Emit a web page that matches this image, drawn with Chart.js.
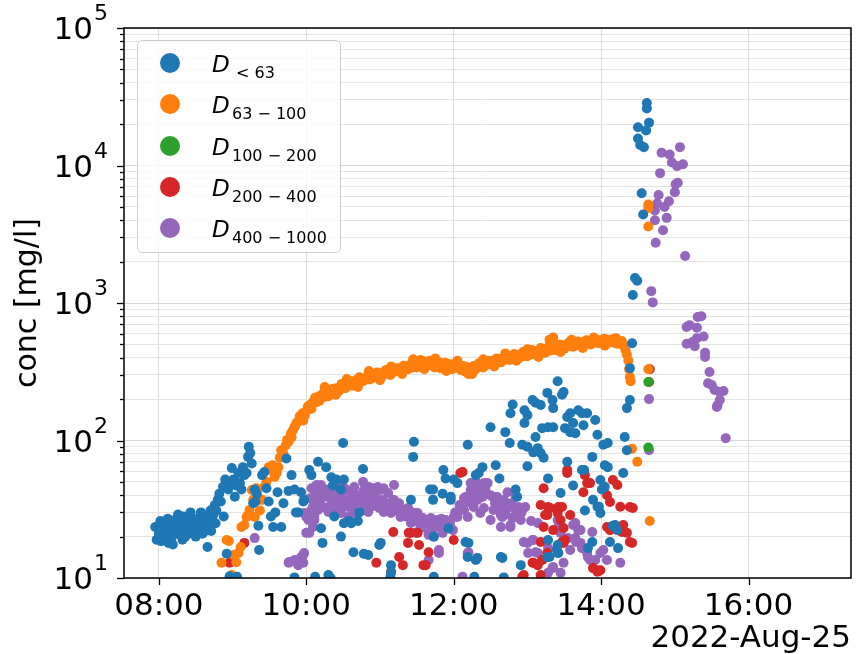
<!DOCTYPE html>
<html>
<head>
<meta charset="utf-8">
<script src="https://cdn.jsdelivr.net/npm/chart.js@4.4.0/dist/chart.umd.min.js"></script>
<style>
  html, body { margin: 0; padding: 0; background: #fff; }
  #wrap { width: 856px; height: 654px; }
</style>
</head>
<body>
<div id="wrap"><canvas id="concChart" width="856" height="654"></canvas></div>
<script>
// [time of day in hours, concentration in mg/l]
const dUnder63 = [
  [7.95,23.5],[7.97,19],[8.00,21],[8.00,24],[8.02,26],[8.03,18.5],[8.04,19],[8.05,23],[8.06,20],[8.07,21],[8.09,25],[8.10,19.5],
  [8.11,22],[8.12,27],[8.13,18],[8.14,24],[8.16,21],[8.17,26],[8.18,20],[8.19,17.5],[8.20,23],[8.21,25],[8.22,22],[8.24,27],[8.25,21],[8.26,29],
  [8.27,24],[8.29,22],[8.30,25],[8.31,24],[8.32,19],[8.33,28],[8.35,26],[8.36,20],[8.37,23],[8.38,28],[8.40,21],[8.41,27],[8.42,25],
  [8.43,30],[8.44,24],[8.45,22],[8.46,27],[8.47,21],[8.48,24],[8.50,20],[8.51,26],[8.52,23],[8.53,27],[8.55,22],[8.56,25],[8.57,30],[8.58,26],
  [8.59,21],[8.60,24],[8.61,28],[8.63,22],[8.64,24],[8.65,27],[8.66,16.8],[8.67,29],[8.68,24],[8.70,31],[8.71,22],[8.72,27],[8.73,26],[8.74,29],[8.76,34],
  [8.77,25],[8.78,31],[8.80,37],[8.82,41],[8.84,36],[8.87,46],[8.88,28],[8.90,52],[8.92,15],[8.94,44],[8.96,10.3],
  [8.97,49],[8.99,63],[9.01,52],[9.03,39],[9.05,47],[9.06,10.2],[9.08,58],[9.10,49],[9.12,44],[9.14,64],
  [9.16,56],[9.19,58],[9.21,76],[9.22,90],[9.24,81],[9.26,68],[9.28,35],[9.30,44],[9.31,36],[9.33,41],
  [9.35,24],[9.36,16],[9.40,56],[9.43,59],[9.46,45],[9.49,36],[9.52,28],[9.55,23.5],[9.58,30],[9.61,42],
  [9.66,23.5],[9.69,35],[9.73,74],[9.76,43],[9.80,56],[9.84,44],[9.84,10.1],[9.86,30],[9.89,30],[9.93,42],
  [9.96,36],[9.97,37],[10.04,61],[10.07,56],[10.12,10.2],[10.16,70],[10.20,23],[10.22,18],[10.27,64],[10.30,10.5],
  [10.33,10.0],[10.34,54],[10.36,47],[10.38,28],[10.41,52],[10.47,44],[10.47,20],[10.50,96],[10.51,52],[10.51,25],
  [10.58,26],[10.61,25],[10.64,15.4],[10.70,26],[10.72,30],[10.77,62],[10.78,15],[10.84,14.7],[10.99,17.4],[11.01,18],
  [11.14,10.1],[11.15,12.4],[11.15,10.9],[11.42,37],[11.45,76],[11.46,98],[11.68,44],[11.72,37],[11.72,44],[11.73,20],
  [11.73,10.2],[11.85,41],[11.86,61],[11.89,53],[11.93,23],[11.96,37],[11.96,39],[12.00,52],[12.05,49],[12.16,18.3],
  [12.19,93],[12.19,14.2],[12.20,18],[12.28,10.2],[12.30,56],[12.30,13.5],[12.32,14],[12.34,58],[12.39,64],[12.50,125],
  [12.57,66],[12.62,53],[12.64,14.2],[12.66,14],[12.68,10.1],[12.70,115],[12.76,96],[12.77,158],[12.80,183],[12.84,44],
  [12.86,39],[12.91,12.4],[12.93,93],[12.96,166],[12.96,134],[13.00,153],[13.00,90],[13.00,65],[13.07,197],[13.08,82],
  [13.11,188],[13.11,106],[13.14,88],[13.18,181],[13.18,81],[13.20,123],[13.22,75],[13.27,222],[13.28,125],[13.28,53],
  [13.28,18.9],[13.27,14.2],[13.30,14.2],[13.34,197],[13.35,172],[13.35,125],[13.41,270],[13.41,17.4],[13.42,15.2],[13.40,16],
  [13.45,41.5],[13.47,215],[13.49,225],[13.51,123],[13.54,148],[13.54,70],[13.58,158],[13.58,115],[13.62,134],[13.62,47],
  [13.65,113],[13.69,166],[13.74,158],[13.74,61],[13.76,129],[13.77,61],[13.78,31],[13.81,158],[13.82,16.5],[13.88,76],
  [13.88,18.3],[13.89,37],[13.92,141],[13.95,110],[13.95,33],[13.97,33],[13.99,51.6],[13.99,29.7],[14.01,44],[14.03,93],
  [14.05,66],[14.05,46],[14.09,96],[14.09,64],[14.12,18.3],[14.16,24],[14.19,24.3],[14.22,22.3],[14.23,16.5],[14.30,58],
  [14.32,106],[14.35,85],[14.35,172],[14.39,197],[14.39,336],[14.42,510],[14.43,1145],[14.46,1520],[14.49,1450],[14.50,19000],
  [14.50,15700],[14.53,14100],[14.55,6290],[14.57,4400],[14.58,13600],[14.61,18000],[14.62,28500],[14.62,26000],[14.65,20500]
];

const d63to100 = [
  [8.85,12.9],[8.92,18.9],[8.95,18.6],[8.99,10.5],[9.01,14.7],[9.05,13.0],[9.08,15.2],[9.11,16.8],[9.12,23.5],[9.16,24.3],
  [9.19,27.8],[9.21,28.7],[9.23,31.2],[9.26,43.7],[9.28,37],[9.30,27.8],[9.32,45],[9.35,36.9],[9.37,31],[9.40,37],
  [9.43,45.9],[9.46,50],[9.49,64],[9.52,61],[9.54,66],[9.57,54.4],[9.60,58],[9.62,64],[9.64,75],[9.66,85],
  [9.69,80],[9.72,92],[9.74,101],[9.76,98],[9.79,112],[9.80,105],[9.82,119],[9.84,125],[9.85,128],[9.87,135],[9.90,138],[9.91,150],[9.93,148],
  [9.95,158],[9.96,140],[9.98,152],[10.01,166],[10.02,175],[10.03,178],[10.06,183],[10.07,170],[10.09,190],[10.11,197],[10.12,205],[10.14,190],[10.17,210],[10.18,195],[10.20,205],
  [10.23,215],[10.24,225],[10.25,245],[10.26,208],[10.29,222],[10.30,210],[10.32,230],[10.35,218],[10.36,238],[10.38,235],[10.40,215],[10.41,240],[10.42,225],[10.44,228],[10.47,246],[10.48,258],[10.50,252],
  [10.53,240],[10.54,248],[10.55,280],[10.56,258],[10.59,262],[10.60,270],[10.62,250],[10.65,268],[10.66,255],[10.68,275],[10.70,245],[10.71,262],[10.72,288],[10.74,280],[10.77,270],[10.78,278],[10.80,285],
  [10.83,290],[10.84,300],[10.85,320],[10.86,278],[10.89,295],[10.90,285],[10.92,300],[10.95,288],[10.96,312],[10.98,305],[11.00,275],[11.01,298],[11.02,290],[11.04,312],[11.07,305],[11.08,325],[11.10,318],
  [11.13,310],[11.14,300],[11.15,345],[11.16,322],[11.19,315],[11.20,335],[11.22,328],[11.25,335],[11.26,318],[11.28,322],[11.30,305],[11.31,340],[11.32,350],[11.34,332],[11.37,345],[11.38,330],[11.40,352],
  [11.43,338],[11.44,368],[11.45,390],[11.46,355],[11.49,362],[11.50,340],[11.52,348],[11.55,385],[11.56,372],[11.58,360],[11.60,330],[11.61,375],[11.62,345],[11.64,352],[11.67,365],[11.68,380],[11.70,378],
  [11.73,355],[11.74,340],[11.75,395],[11.76,345],[11.79,362],[11.80,370],[11.82,335],[11.85,352],[11.86,335],[11.88,368],[11.90,320],[11.91,340],[11.92,362],[11.94,358],[11.97,345],[11.98,330],[12.00,360],
  [12.03,338],[12.04,355],[12.05,380],[12.06,352],[12.09,330],[12.10,325],[12.12,348],[12.15,318],[12.16,345],[12.18,340],[12.20,305],[12.22,322],[12.24,335],[12.25,305],[12.27,348],[12.28,340],[12.30,330],
  [12.33,355],[12.34,365],[12.36,345],[12.39,362],[12.40,390],[12.40,340],[12.42,350],[12.45,372],[12.46,380],[12.48,358],[12.51,380],[12.52,360],[12.54,368],[12.55,345],[12.57,385],[12.58,395],[12.60,372],
  [12.63,392],[12.64,370],[12.66,380],[12.69,398],[12.70,430],[12.70,410],[12.72,388],[12.75,405],[12.76,385],[12.78,395],[12.81,412],[12.82,425],[12.84,400],[12.85,380],[12.87,418],[12.88,395],[12.90,405],
  [12.93,425],[12.94,440],[12.96,412],[12.99,430],[13.00,460],[13.00,410],[13.02,418],[13.05,440],[13.06,455],[13.08,425],[13.11,445],[13.12,420],[13.14,430],[13.15,405],[13.17,452],[13.18,470],[13.20,440],
  [13.23,460],[13.24,435],[13.26,445],[13.29,470],[13.30,540],[13.30,495],[13.32,452],[13.33,500],[13.35,560],[13.37,478],[13.38,455],[13.40,460],[13.43,485],[13.44,500],[13.45,440],[13.46,470],[13.49,492],
  [13.50,465],[13.52,478],[13.55,500],[13.56,515],[13.58,485],[13.60,540],[13.61,505],[13.62,480],[13.64,490],[13.67,512],[13.68,525],[13.70,495],[13.73,518],[13.74,490],[13.75,470],[13.76,500],[13.79,522],
  [13.80,535],[13.82,505],[13.85,528],[13.86,500],[13.88,510],[13.90,560],[13.91,532],[13.92,545],[13.94,515],[13.97,535],[13.98,510],[14.00,520],[14.03,538],[14.04,550],[14.05,490],[14.06,525],[14.09,540],
  [14.10,515],[14.12,522],[14.15,535],[14.16,545],[14.18,515],[14.20,555],[14.21,528],[14.22,505],[14.24,510],[14.27,520],[14.28,530],[14.30,495],[14.33,455],[14.35,420],[14.37,380],
  [14.38,330],[14.39,290],[14.40,270],[14.42,87],[14.49,70],[14.64,330],[14.64,5200],[14.64,4900],[14.64,3600],[14.66,26]
];

const d100to200 = [
  [14.64,266],[14.64,89]
];

const d200to400 = [
  [8.96,12.9],[9.16,18],[10.95,12.9],[11.15,11.1],[11.18,21.6],[11.26,14.2],[11.31,12.4],[11.38,18],[11.39,21.3],[11.42,21.3],
  [11.51,21.3],[11.53,17.4],[11.59,12.4],[11.62,12.4],[11.66,15.4],[12.00,18.9],[12.09,58],[12.12,59],[12.93,10.2],[12.95,10.5],
  [13.07,12.9],[13.08,12.9],[13.14,12.4],[13.18,34],[13.18,18.3],[13.18,10.5],[13.20,13.5],[13.22,45],[13.22,23.5],[13.24,28.7],
  [13.27,28.7],[13.27,15.2],[13.28,32.8],[13.31,32.3],[13.35,22.3],[13.41,29.7],[13.42,32.8],[13.45,26.4],[13.47,32.8],[13.47,18.3],
  [13.49,23.1],[13.49,18],[13.51,18.9],[13.54,61],[13.54,58],[13.58,28.7],[13.76,42],[13.78,56],[13.81,49],[13.85,49],
  [13.89,11.8],[13.95,11.1],[13.99,11.4],[14.08,40],[14.08,23.5],[14.12,35.7],[14.12,22.3],[14.16,51.6],[14.22,47.5],[14.26,33],
  [14.28,21.6],[14.30,24.3],[14.35,21.3],[14.39,32.8],[14.39,18.3],[14.42,18],[14.43,32.3],[14.65,266],[14.66,330]
];

const d400to1000 = [
  [9.30,19.5],[9.76,12.9],[9.77,13.1],[9.84,13.5],[9.89,12.4],[9.93,14.2],[9.96,14.7],[9.96,12.9],[9.97,15.2],[9.97,29.7],
  [10.00,27.8],[10.00,21.3],[10.03,26.4],[10.04,21.3],[10.05,38],[10.07,31.2],[10.07,45],[10.09,23.5],[10.09,33],[10.11,43.7],[10.11,26.4],[10.11,36.9],
  [10.11,27.8],[10.13,40],[10.14,47.5],[10.16,31.2],[10.18,36],[10.20,47.5],[10.20,45.9],[10.23,42],[10.23,32.8],[10.25,39],[10.28,44],[10.30,30.2],[10.32,33],[10.34,38.8],[10.34,35],
  [10.38,41.5],[10.38,38.8],[10.41,32.3],[10.43,49],[10.44,36],[10.47,40],[10.47,29.7],[10.50,34],[10.52,45],[10.54,43.7],[10.57,36.9],[10.57,32.8],[10.57,27.8],
  [10.60,38],[10.62,42],[10.64,32.8],[10.65,45.9],[10.65,29.7],[10.66,35],[10.68,40],[10.70,40],[10.70,30.2],[10.74,37],[10.77,50],[10.78,43.7],[10.78,34],[10.78,31.2],
  [10.81,41],[10.84,30.2],[10.84,38.2],[10.85,45.9],[10.88,33],[10.91,40],[10.91,45],[10.92,35],[10.95,38],[10.97,45.9],[10.99,32.3],[11.01,43.7],[11.04,36.9],
  [11.05,45],[11.05,30.2],[11.08,35],[11.11,41.5],[11.12,33],[11.15,29.7],[11.18,36.9],[11.19,47.5],[11.19,36.9],[11.22,31],[11.24,32.8],[11.26,35],[11.28,27.8],[11.31,31.2],
  [11.32,29.7],[11.35,28],[11.38,32.3],[11.40,31],[11.42,25.1],[11.45,28.7],[11.46,29.7],[11.48,26],[11.49,21.3],[11.51,29.7],[11.51,21.6],[11.55,26.4],[11.55,23.1],[11.57,24],
  [11.58,27.3],[11.62,25.5],[11.65,25.1],[11.66,21.3],[11.66,20.6],[11.66,13.5],[11.69,27.3],[11.71,23],[11.73,25.1],[11.73,20],[11.76,25],[11.78,23.5],
  [11.78,26.4],[11.80,15.2],[11.80,16],[11.82,24.3],[11.83,27],[11.85,21.3],[11.86,22.3],[11.86,26.4],[11.89,26.4],[11.92,23.5],[11.95,25],[11.99,22.3],
  [12.00,27.8],[12.02,30],[12.05,27.8],[12.08,34],[12.09,31.2],[12.12,10.2],[12.14,31.2],[12.14,38.2],[12.16,38.8],[12.19,15.2],[12.19,27.8],[12.20,35.7],
  [12.20,15.4],[12.23,49],[12.23,43.7],[12.25,41],[12.27,49],[12.27,38.8],[12.27,32.8],[12.30,50],[12.32,36.9],[12.34,43.7],[12.36,47.5],
  [12.36,29.7],[12.39,38.8],[12.41,32.3],[12.41,49],[12.43,44],[12.46,49],[12.50,40],[12.50,26.4],[12.53,38.8],[12.54,31.2],[12.56,35],[12.59,38.8],
  [12.62,31],[12.64,35],[12.64,28.7],[12.64,23.5],[12.66,27.8],[12.68,36.9],[12.70,29],[12.73,42],[12.73,32.8],[12.74,32.3],[12.77,23.5],[12.77,24.3],[12.78,35],
  [12.80,27.3],[12.81,27.8],[12.84,38.8],[12.84,32.3],[12.88,32.8],[12.88,27.8],[12.91,26.4],[12.92,30],[12.95,32.3],[12.95,18.3],[12.97,32.8],
  [13.00,18],[13.01,15.2],[13.05,26],[13.07,18.9],[13.08,18.9],[13.11,15.4],[13.14,25.1],[13.14,15.2],[13.20,13.5],[13.27,14.2],[13.28,16.5],
  [13.28,10.9],[13.34,11.8],[13.35,12],[13.41,26.4],[13.41,23.1],[13.41,15.2],[13.45,21.3],[13.45,10.9],[13.49,12.9],[13.55,19.5],
  [13.58,16],[13.62,24.3],[13.65,19.5],[13.65,25.1],[13.66,18.3],[13.69,22.3],[13.72,22.3],[13.72,18],[13.74,16.5],[13.75,16.5],
  [13.81,15.2],[13.82,14.2],[13.85,13.5],[13.88,21.6],[13.92,13.5],[13.95,11.4],[13.99,15.2],[14.03,16],[14.08,13.5],[14.26,12.9],
  [14.65,200],[14.65,85],[14.68,1220],[14.70,1010],[14.73,4700],[14.73,4000],[14.74,2740],[14.76,5300],[14.78,6100],[14.80,8800],
  [14.82,12400],[14.84,3380],[14.86,5000],[14.89,4160],[14.92,5500],[14.93,12000],[14.96,10500],[15.00,6400],[15.01,7300],[15.03,9900],
  [15.04,7500],[15.07,13600],[15.11,10200],[15.14,2200],[15.16,670],[15.16,505],[15.20,690],[15.24,520],[15.27,485],[15.30,660],
  [15.30,555],[15.31,790],[15.36,800],[15.39,570],[15.41,435],[15.41,405],[15.45,261],[15.47,315],[15.50,253],[15.54,233],
  [15.57,175],[15.58,181],[15.61,225],[15.61,197],[15.66,229],[15.69,104]
];

const seriesData = [dUnder63, d63to100, d100to200, d200to400, d400to1000];
const seriesSubs = ['< 63', '63 \u2212 100', '100 \u2212 200', '200 \u2212 400', '400 \u2212 1000'];
const seriesColors = ['#1f77b4', '#ff7f0e', '#2ca02c', '#d62728', '#9467bd'];
const hourTicks = [8, 10, 12, 14, 16];
const decades = [1, 2, 3, 4, 5];
const dateLabel = '2022-Aug-25';
const yTitle = 'conc [mg/l]';

const FONT = '"DejaVu Sans", Verdana, sans-serif';

// all log ticks 10..100000 (1..9 times each decade)
const logTicks = [];
decades.forEach(e => {
  if (e === 5) { logTicks.push(1e5); return; }
  for (let m = 1; m <= 9; m++) logTicks.push(m * Math.pow(10, e));
});
const isDecade = v => Math.abs(Math.log10(v) - Math.round(Math.log10(v))) < 1e-9;

const pad2 = n => (n < 10 ? '0' : '') + n;

const decor = {
  id: 'decor',
  afterDraw(chart) {
    const { ctx, chartArea: a, scales: { x, y } } = chart;
    ctx.save();
    ctx.strokeStyle = '#000';
    ctx.fillStyle = '#000';

    // ticks
    ctx.lineWidth = 1.3;
    y.ticks.forEach(t => {
      const py = Math.round(y.getPixelForValue(t.value)) + 0.5;
      const len = isDecade(t.value) ? 7 : 4;
      ctx.beginPath(); ctx.moveTo(a.left - len, py); ctx.lineTo(a.left, py); ctx.stroke();
    });
    x.ticks.forEach(t => {
      const px = Math.round(x.getPixelForValue(t.value)) + 0.5;
      ctx.beginPath(); ctx.moveTo(px, a.bottom); ctx.lineTo(px, a.bottom + 7); ctx.stroke();
    });

    // frame
    ctx.lineWidth = 1.5;
    ctx.strokeRect(a.left, a.top, a.right - a.left, a.bottom - a.top);

    // y tick labels 10^n
    decades.forEach(e => {
      const py = y.getPixelForValue(Math.pow(10, e));
      ctx.textAlign = 'right';
      ctx.textBaseline = 'alphabetic';
      ctx.font = '22px ' + FONT;
      ctx.fillText(String(e), a.left - 16, py - 8);
      const ew = ctx.measureText(String(e)).width;
      ctx.font = '31px ' + FONT;
      ctx.fillText('10', a.left - 16 - ew - 1, py + 11);
    });

    // y title
    ctx.save();
    ctx.translate(36, (a.top + a.bottom) / 2);
    ctx.rotate(-Math.PI / 2);
    ctx.textAlign = 'center';
    ctx.textBaseline = 'alphabetic';
    ctx.font = '30px ' + FONT;
    ctx.fillText(yTitle, 0, 0);
    ctx.restore();

    // date under axis
    ctx.textAlign = 'right';
    ctx.font = '31px ' + FONT;
    ctx.fillText(dateLabel, a.right, 647);

    // legend
    const lx = 137, ly = 40, lw = 203, lh = 212;
    ctx.beginPath();
    ctx.roundRect(lx + 0.5, ly + 0.5, lw, lh, 5);
    ctx.fillStyle = 'rgba(255,255,255,0.8)';
    ctx.fill();
    ctx.strokeStyle = '#cccccc';
    ctx.lineWidth = 1;
    ctx.stroke();
    const rows = [63, 104, 146, 187, 228];
    rows.forEach((ry, i) => {
      ctx.beginPath();
      ctx.arc(170, ry, 10, 0, Math.PI * 2);
      ctx.fillStyle = seriesColors[i];
      ctx.fill();
      ctx.fillStyle = '#000';
      ctx.textAlign = 'left';
      ctx.font = 'italic 23px ' + FONT;
      ctx.fillText('D', 212, ry + 9);
      ctx.font = '16px ' + FONT;
      ctx.fillText(seriesSubs[i], i === 0 ? 236 : 232, ry + 15);
    });

    ctx.restore();
  }
};

const ctx = document.getElementById('concChart').getContext('2d');
const chart = new Chart(ctx, {
  type: 'scatter',
  data: {
    datasets: seriesData.map((arr, i) => ({
      label: 'D' + seriesSubs[i],
      data: arr.map(p => ({ x: p[0], y: p[1] })),
      backgroundColor: seriesColors[i],
      borderColor: seriesColors[i],
      pointRadius: 5,
      pointBorderWidth: 0,
      pointHoverRadius: 5
    }))
  },
  options: {
    responsive: false,
    animation: false,
    events: [],
    layout: { padding: { top: 28, right: 4, left: 0, bottom: 0 } },
    plugins: {
      legend: { display: false },
      tooltip: { enabled: false }
    },
    scales: {
      x: {
        type: 'linear',
        min: 7.527,
        max: 17.39,
        afterBuildTicks: s => { s.ticks = hourTicks.map(v => ({ value: v })); },
        afterFit: s => { s.height = 76; },
        grid: { color: '#dddddd', lineWidth: 1, drawTicks: false },
        border: { display: false },
        ticks: {
          color: '#000',
          font: { family: FONT, size: 31 },
          padding: 10,
          maxRotation: 0,
          autoSkip: false,
          callback: v => pad2(v) + ':00'
        }
      },
      y: {
        type: 'logarithmic',
        min: 10,
        max: 100000,
        afterBuildTicks: s => { s.ticks = logTicks.map(v => ({ value: v })); },
        afterFit: s => { s.width = 124; },
        grid: {
          color: c => (c.tick && isDecade(c.tick.value)) ? '#d6d6d6' : '#e4e4e4',
          lineWidth: 1,
          drawTicks: false
        },
        border: { display: false },
        ticks: { display: false }
      }
    }
  },
  plugins: [decor]
});
</script>
</body>
</html>
